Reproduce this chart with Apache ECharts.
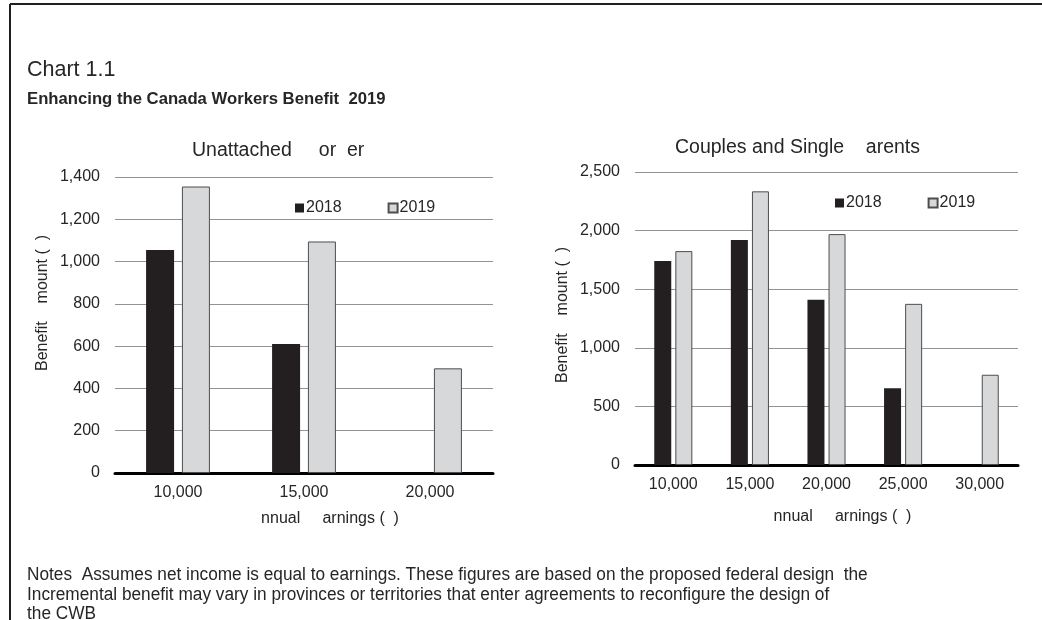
<!DOCTYPE html>
<html>
<head>
<meta charset="utf-8">
<script src="https://cdn.jsdelivr.net/npm/echarts@6/dist/echarts.min.js"></script>
<style>
  html, body { margin: 0; padding: 0; background: #ffffff; }
  #chart { width: 1042px; height: 620px; }
</style>
</head>
<body>
<div id="chart"></div>
<script>
// Annual earnings categories for each panel
const unattachedEarnings = ['10,000', '15,000', '20,000'];
const familyEarnings = ['10,000', '15,000', '20,000', '25,000', '30,000'];

// Benefit amounts ($)
const unattached2018 = [1055, 610, 0];
const unattached2019 = [1355, 1095, 495];
const family2018 = [1740, 1920, 1410, 655, 0];
const family2019 = [1825, 2335, 1970, 1375, 770];

const seriesNames = ['2018', '2019'];

const FONT = '"Liberation Sans", Arial, sans-serif';
const DARK = '#231f20';
const LIGHT = '#d7d8d9';
const TEXT = '#262626';

const fmt = v => Number(v).toLocaleString('en-US');

function xAxisFor(gridIndex, cats, gap, pad) {
  return {
    type: 'category', gridIndex: gridIndex, data: cats,
    axisLine: { lineStyle: { color: '#000', width: 3 } },
    axisTick: { show: false },
    axisLabel: { color: TEXT, fontFamily: FONT, fontSize: 16, margin: 12 },
    name: 'nnual     arnings (  )',
    nameLocation: 'middle', nameGap: gap,
    nameTextStyle: { color: TEXT, fontFamily: FONT, fontSize: 16, padding: [0, 0, 0, pad] }
  };
}

function yAxisFor(gridIndex, max, step, pad) {
  return {
    type: 'value', gridIndex: gridIndex, min: 0, max: max, interval: step,
    axisLine: { show: false }, axisTick: { show: false },
    splitLine: { lineStyle: { color: '#939393', width: 1 } },
    axisLabel: { color: TEXT, fontFamily: FONT, fontSize: 16, margin: 15, formatter: fmt },
    name: 'Benefit    mount (  )',
    nameLocation: 'middle', nameGap: 64, nameRotate: 90,
    nameTextStyle: { color: TEXT, fontFamily: FONT, fontSize: 16, padding: [0, 0, 0, pad] }
  };
}

function barSeries(name, xi, data, width, gap, isNew) {
  return {
    name: name, type: 'bar', xAxisIndex: xi, yAxisIndex: xi, data: data,
    barWidth: width, barGap: gap,
    itemStyle: isNew
      ? { color: LIGHT, borderColor: '#4d4d4d', borderWidth: 1 }
      : { color: DARK },
    emphasis: { disabled: true }
  };
}

function legendAt(left, top) {
  return {
    data: seriesNames, left: left, top: top, orient: 'horizontal',
    icon: 'rect', itemWidth: 9, itemHeight: 9, itemGap: 46,
    textStyle: { color: TEXT, fontFamily: FONT, fontSize: 16, padding: [0, 0, 0, -3] }
  };
}

const chart = echarts.init(document.getElementById('chart'), null, { renderer: 'canvas' });

chart.setOption({
  backgroundColor: '#ffffff',
  animation: false,
  grid: [
    { left: 115, right: 549, top: 177, bottom: 147 },
    { left: 635, right: 24, top: 172, bottom: 155 }
  ],
  legend: [legendAt(290, 195), legendAt(830, 190)],
  xAxis: [xAxisFor(0, unattachedEarnings, 38, 52), xAxisFor(1, familyEarnings, 44, 32)],
  yAxis: [yAxisFor(0, 1400, 200, 44), yAxisFor(1, 2500, 500, 7)],
  series: [
    barSeries(seriesNames[0], 0, unattached2018, 28, '28%', false),
    barSeries(seriesNames[1], 0, unattached2019, 28, '28%', true),
    barSeries(seriesNames[0], 1, family2018, 17, '24%', false),
    barSeries(seriesNames[1], 1, family2019, 17, '24%', true)
  ],
  graphic: [
    // frame
    { type: 'line', shape: { x1: 10, y1: 4, x2: 1042, y2: 4 }, style: { stroke: DARK, lineWidth: 2 } },
    { type: 'line', shape: { x1: 10, y1: 4, x2: 10, y2: 620 }, style: { stroke: DARK, lineWidth: 2 } },
    // headings
    { type: 'text', x: 27, y: 70, style: { text: 'Chart 1.1', fill: TEXT, font: '21.5px ' + FONT, verticalAlign: 'middle' } },
    { type: 'text', x: 27, y: 99, style: { text: 'Enhancing the Canada Workers Benefit  2019', fill: TEXT, font: 'bold 16.7px ' + FONT, verticalAlign: 'middle' } },
    // panel titles
    { type: 'text', x: 192, y: 151, style: { text: 'Unattached     or  er', fill: TEXT, font: '19.5px ' + FONT, verticalAlign: 'middle' } },
    { type: 'text', x: 675, y: 148, style: { text: 'Couples and Single    arents', fill: TEXT, font: '19.5px ' + FONT, verticalAlign: 'middle' } },
    // notes
    { type: 'text', x: 27, y: 575, scaleX: 0.958, style: { text: 'Notes  Assumes net income is equal to earnings. These figures are based on the proposed federal design  the', fill: TEXT, font: '18px ' + FONT, verticalAlign: 'middle' } },
    { type: 'text', x: 27, y: 595, scaleX: 0.958, style: { text: 'Incremental benefit may vary in provinces or territories that enter agreements to reconfigure the design of', fill: TEXT, font: '18px ' + FONT, verticalAlign: 'middle' } },
    { type: 'text', x: 27, y: 614, scaleX: 0.958, style: { text: 'the CWB', fill: TEXT, font: '18px ' + FONT, verticalAlign: 'middle' } }
  ]
});
</script>
</body>
</html>
